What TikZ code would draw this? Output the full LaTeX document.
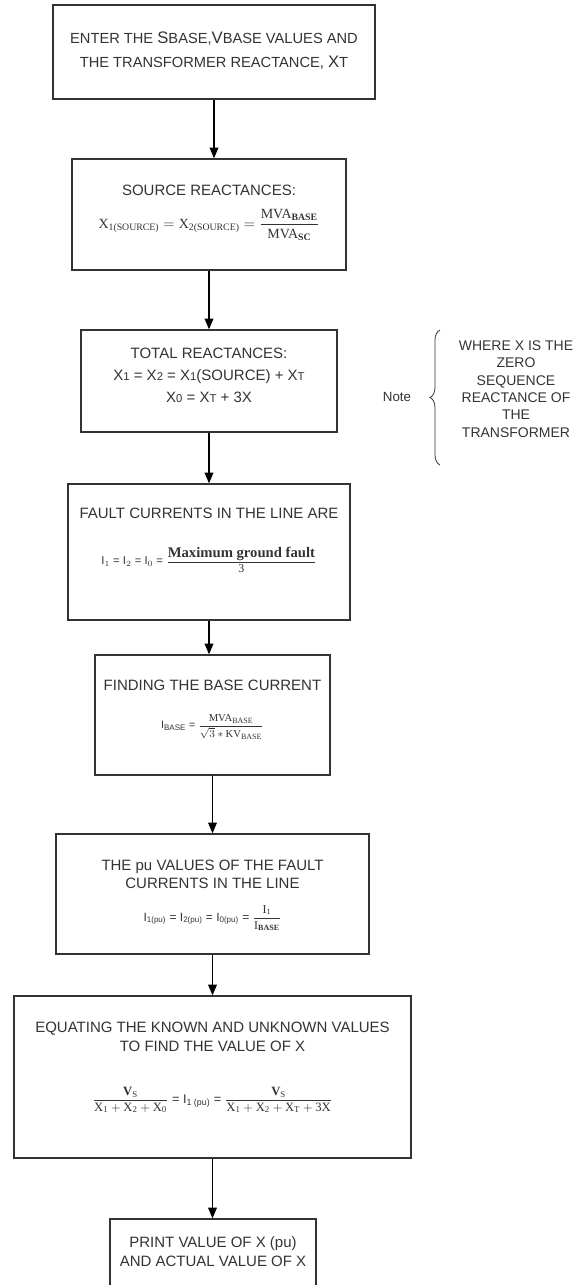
\documentclass[tikz,border=0pt]{standalone}
\usepackage{amsmath}
\usepackage{fontspec}
\setmainfont{Liberation Sans}
\newfontfamily\eqserif{Liberation Serif}
\usetikzlibrary{arrows.meta,decorations.pathreplacing}
\definecolor{inkgray}{HTML}{333333}
\newcommand{\sv}[1]{\text{\eqserif #1}}
\newcommand{\lo}[1]{{\fontsize{8.5}{8.5}\selectfont #1}}
\newcommand{\capl}[1]{{\fontsize{12.5}{12.5}\selectfont #1}}

\tikzset{
  stepbox/.style={draw=inkgray, line width=1pt, fill=white, inner sep=0pt},
  flow/.style={-{Triangle[length=8pt,width=6.5pt]}, line width=1pt, black},
  txt/.style={text=inkgray, align=center, inner sep=0pt, font=\fontsize{11.25}{14}\selectfont},
}

\begin{document}
\begin{tikzpicture}[x=0.75pt,y=-0.75pt]
\useasboundingbox (0,0) rectangle (577,1285);

%Enter values
\node[stepbox, minimum width=241.5pt, minimum height=70.5pt] (b1) at (214,52){};
\node[txt, font=\fontsize{11}{18}\selectfont] (t1) at (214,51){ENTER THE \capl{S}BASE,\capl{V}BASE VALUES AND\\THE TRANSFORMER REACTANCE, \capl{X}T};

%Source reactances
\node[stepbox, minimum width=205.5pt, minimum height=83.25pt] (b2) at (209,214.5){};
\node[txt] (t2) at (209,190){SOURCE REACTANCES:};
\node[txt, font=\fontsize{10.5}{10.5}\selectfont] (f2) at (209,225){$\sv{X}_{\sv{1(SOURCE)}} = \sv{X}_{\sv{2(SOURCE)}} = \dfrac{\sv{MVA}_{\sv{\bfseries BASE}}}{\sv{MVA}_{\sv{\bfseries SC}}}$};

%Total reactances
\node[stepbox, minimum width=192pt, minimum height=76.5pt] (b3) at (209,381){};
\node[txt, font=\fontsize{11.25}{16.5}\selectfont] (t3) at (209,375){TOTAL REACTANCES:\\X\lo{1} = X\lo{2} = X\lo{1}(SOURCE) + X\lo{T}\\X\lo{0} = X\lo{T} + 3X};

%Note
\node[txt, font=\fontsize{10}{12}\selectfont] (note) at (397,397){Note};
\coordinate (bracetop) at (440,330);
\coordinate (bracebot) at (440,465);
\draw[inkgray, line width=0.6pt, decorate, decoration={brace, amplitude=7.5pt}] (bracebot) -- (bracetop);
\node[txt, font=\fontsize{10.5}{13}\selectfont] (notetext) at (516,389){WHERE X IS THE\\ZERO\\SEQUENCE\\REACTANCE OF\\THE\\TRANSFORMER};

%Fault currents
\node[stepbox, minimum width=211.5pt, minimum height=102pt] (b4) at (209,552){};
\node[txt] (t4) at (209,513){FAULT CURRENTS IN THE LINE ARE};
\node[txt, font=\fontsize{8.5}{8.5}\selectfont] (f4) at (209,560){I$_1$ = I$_2$ = I$_0$ = $\dfrac{\text{\fontsize{11}{11}\selectfont\eqserif\bfseries Maximum ground fault}}{\text{\fontsize{9}{9}\selectfont\eqserif 3}}$};

%Base current
\node[stepbox, minimum width=176.25pt, minimum height=90pt] (b5) at (212.5,715){};
\node[txt] (t5) at (212.5,685){FINDING THE BASE CURRENT};
\node[txt, font=\fontsize{8}{8}\selectfont] (f5) at (212.5,727){I$_{\text{BASE}}$ = $\dfrac{\sv{MVA}_{\sv{BASE}}}{\sqrt{3}\ast\sv{KV}_{\sv{BASE}}}$};

%pu values
\node[stepbox, minimum width=234.75pt, minimum height=90pt] (b6) at (212.5,894){};
\node[txt, font=\fontsize{11.25}{13.5}\selectfont] (t6) at (212.5,874){THE pu VALUES OF THE FAULT\\CURRENTS IN THE LINE};
\node[txt, font=\fontsize{9}{9}\selectfont] (f6) at (212.5,918){I$_{\text{1(pu)}}$ = I$_{\text{2(pu)}}$ = I$_{\text{0(pu)}}$ = $\dfrac{\sv{I}_{\sv{1}}}{\sv{I}_{\sv{\bfseries BASE}}}$};

%Equating
\node[stepbox, minimum width=297.75pt, minimum height=121.5pt] (b7) at (212.5,1077){};
\node[txt, font=\fontsize{11.25}{14.25}\selectfont] (t7) at (212.5,1037){EQUATING THE KNOWN AND UNKNOWN VALUES\\TO FIND THE VALUE OF X};
\node[txt, font=\fontsize{9.5}{9.5}\selectfont] (f7) at (212.5,1100){$\dfrac{\sv{\bfseries V}_{\sv{S}}}{\sv{X}_{\sv{1}}+\sv{X}_{\sv{2}}+\sv{X}_{\sv{0}}}$ = I$_{\text{1 (pu)}}$ = $\dfrac{\sv{\bfseries V}_{\sv{S}}}{\sv{X}_{\sv{1}}+\sv{X}_{\sv{2}}+\sv{X}_{\sv{T}}+\sv{3X}}$};

%Print
\node[stepbox, minimum width=154.5pt, minimum height=51.75pt] (b8) at (213,1253.5){};
\node[txt, font=\fontsize{11.25}{14.25}\selectfont] (t8) at (213,1252){PRINT VALUE OF X (pu)\\AND ACTUAL VALUE OF X};

%Arrows
\draw[flow] (b1.south) -- (b1.south |- b2.north);
\draw[flow] (b2.south) -- (b2.south |- b3.north);
\draw[flow] (b3.south) -- (b3.south |- b4.north);
\draw[flow] (b4.south) -- (b4.south |- b5.north);
\draw[flow] (b5.south) -- (b5.south |- b6.north);
\draw[flow] (b6.south) -- (b6.south |- b7.north);
\draw[flow] (b7.south) -- (b7.south |- b8.north);

\end{tikzpicture}
\end{document}
